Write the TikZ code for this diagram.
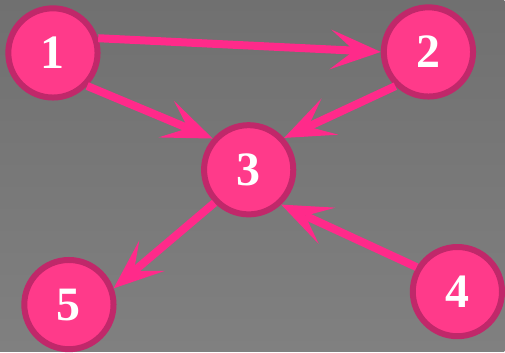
\documentclass[tikz,border=0pt]{standalone}
\usepackage{fontspec}
\setmainfont{Liberation Serif}
\usetikzlibrary{arrows.meta}
\definecolor{bgtop}{HTML}{707070}
\definecolor{bgbot}{HTML}{808080}
\definecolor{vfill}{HTML}{FF3A8A}
\definecolor{vedge}{HTML}{C0286A}
\definecolor{epink}{HTML}{FF2A8A}
\tikzset{
  vertex/.style={circle,draw=vedge,fill=vfill,line width=4.5pt,minimum size=67pt,
    inner sep=0pt,text=white,font=\fontsize{36}{36}\selectfont\bfseries},
  edge/.style={draw=epink,line width=6pt,
    -{Stealth[length=38pt,width=30pt,inset=18pt,line width=0pt]}}
}
\begin{document}
\begin{tikzpicture}[x=0.75pt,y=0.75pt]
  \fill[top color=bgtop,bottom color=bgbot] (0,0) rectangle (505,352);
  \node[vertex] (n1) at (53,299) {1};
  \node[vertex] (n2) at (429,300) {2};
  \node[vertex] (n3) at (249,182) {3};
  \node[vertex] (n4) at (458,60) {4};
  \node[vertex] (n5) at (69,47) {5};
  \foreach \a/\b in {n1.18/n2.180, n1.-44/n3.139, n2.226/n3.42, n3.224/n5.20, n4.149/n3.-47}
    \draw[edge] (\a) -- (\b);
\end{tikzpicture}
\end{document}
